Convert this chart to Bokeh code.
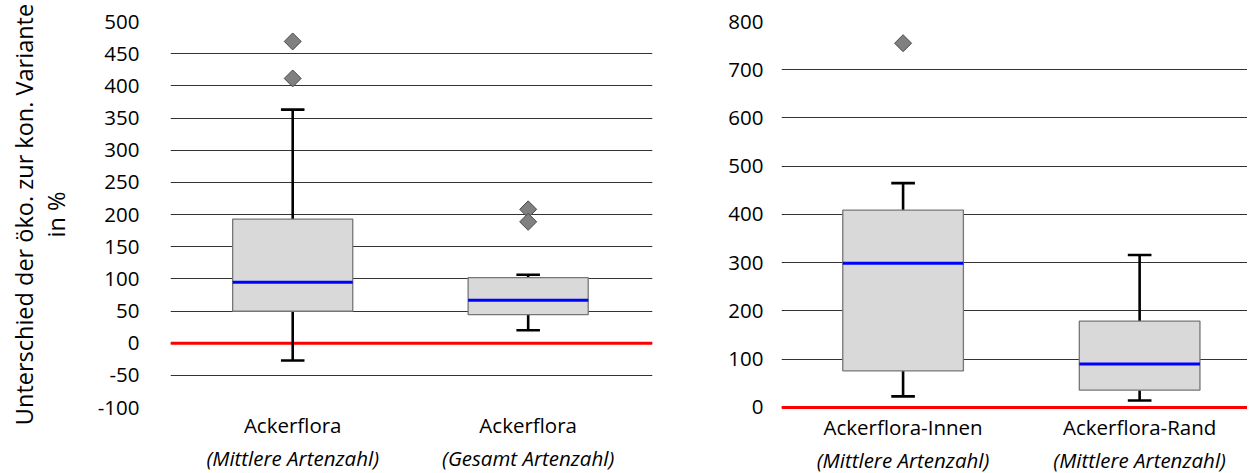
from bokeh.plotting import figure
from bokeh.models import FixedTicker, LinearAxis, Span, Range1d, ColumnDataSource
from bokeh.layouts import row
from bokeh.embed import file_html
from bokeh.resources import INLINE

FONT = "Open Sans"
FS = "20.5px"

# ---- data: left chart ----
left_cats = ["Ackerflora", "Ackerflora"]
left_subs = ["(Mittlere Artenzahl)", "(Gesamt Artenzahl)"]
left_lo = [-27, 20]
left_q1 = [49.6, 44.4]
left_med = [94.6, 66.7]
left_q3 = [192.8, 101.8]
left_hi = [363, 106.4]
left_out_idx = [0, 0, 1, 1]
left_out_val = [469, 411.5, 208, 188.6]
left_yticks = [-100, -50, 0, 50, 100, 150, 200, 250, 300, 350, 400, 450, 500]

# ---- data: right chart ----
right_cats = ["Ackerflora-Innen", "Ackerflora-Rand"]
right_subs = ["(Mittlere Artenzahl)", "(Mittlere Artenzahl)"]
right_lo = [23, 14.5]
right_q1 = [76, 36]
right_med = [299, 90]
right_q3 = [409, 179]
right_hi = [465, 316]
right_out_idx = [0]
right_out_val = [755]
right_yticks = [0, 100, 200, 300, 400, 500, 600, 700, 800]


def make_chart(cats, subs, lo, q1, med, q3, hi, out_idx, out_val, yticks, y_start,
               x_start, x_end, frame_w, frame_h, bl, br, bt, standoff, title=None):
    xs = [i + 0.5 for i in range(len(cats))]
    p = figure(frame_width=frame_w, frame_height=frame_h, output_backend="svg",
               toolbar_location=None, x_range=Range1d(x_start, x_end),
               y_range=Range1d(y_start, yticks[-1]),
               min_border_left=bl, min_border_right=br, min_border_top=bt,
               min_border_bottom=0)
    p.outline_line_color = None
    p.background_fill_color = "white"
    p.border_fill_color = "white"
    p.xgrid.visible = False
    p.ygrid.ticker = FixedTicker(ticks=yticks)
    p.ygrid.grid_line_color = "#333333"
    p.ygrid.grid_line_width = 1

    # y axis (plain hyphen for negative labels, as in the original)
    ya = p.yaxis[0]
    ya.ticker = FixedTicker(ticks=yticks)
    ya.major_label_overrides = {t: str(t) for t in yticks}
    ya.axis_line_color = None
    ya.major_tick_line_color = None
    ya.minor_tick_line_color = None
    ya.major_label_standoff = standoff
    ya.major_label_text_font = FONT
    ya.major_label_text_font_size = FS
    ya.major_label_text_color = "black"
    if title:
        ya.axis_label = title
        ya.axis_label_text_font = FONT
        ya.axis_label_text_font_size = "23.5px"
        ya.axis_label_text_font_style = "normal"
        ya.axis_label_text_color = "black"
        ya.axis_label_text_line_height = 0.977
        ya.axis_label_standoff = 23

    # x axes: two label lines
    xa = p.xaxis[0]
    xa.ticker = FixedTicker(ticks=xs)
    xa.major_label_overrides = {x: c for x, c in zip(xs, cats)}
    xa2 = LinearAxis(ticker=FixedTicker(ticks=xs),
                     major_label_overrides={x: s for x, s in zip(xs, subs)})
    p.add_layout(xa2, "below")
    for i, a in enumerate((xa, xa2)):
        a.axis_line_color = None
        a.major_tick_line_color = None
        a.minor_tick_line_color = None
        a.major_tick_out = 0
        a.major_label_standoff = 3 if i == 0 else 2
        a.major_label_text_font = FONT
        a.major_label_text_font_size = FS
        a.major_label_text_color = "black"
        a.major_label_text_font_style = "normal" if i == 0 else "italic"

    # zero line
    p.add_layout(Span(location=0, dimension="width", line_color="#ff0000",
                      line_width=3, level="underlay"))

    src = ColumnDataSource(dict(x=xs, lo=lo, q1=q1, med=med, q3=q3, hi=hi,
                                x0=[x - 0.05 for x in xs], x1=[x + 0.05 for x in xs],
                                m0=[x - 0.255 for x in xs], m1=[x + 0.255 for x in xs]))
    # whiskers
    p.segment("x", "q3", "x", "hi", source=src, line_color="black", line_width=2.6)
    p.segment("x", "q1", "x", "lo", source=src, line_color="black", line_width=2.6)
    p.segment("x0", "hi", "x1", "hi", source=src, line_color="black", line_width=2.6)
    p.segment("x0", "lo", "x1", "lo", source=src, line_color="black", line_width=2.6)
    # boxes
    p.vbar(x="x", bottom="q1", top="q3", width=0.51, source=src,
           fill_color="#d9d9d9", line_color="#767676", line_width=1.3)
    # medians
    p.segment("m0", "med", "m1", "med", source=src, line_color="#0000ff", line_width=3)
    # outliers
    p.scatter([xs[i] for i in out_idx], out_val, marker="square", angle=0.785398,
              size=12, fill_color="#808080", line_color="#4a4a4a", line_width=1)
    return p


p1 = make_chart(left_cats, left_subs, left_lo, left_q1, left_med, left_q3, left_hi,
                left_out_idx, left_out_val, left_yticks, -100, -0.019, 2.028,
                482, 386, 170, 48, 20, 25,
                title="Unterschied der öko. zur kon. Variante\nin %")
p2 = make_chart(right_cats, right_subs, right_lo, right_q1, right_med, right_q3, right_hi,
                right_out_idx, right_out_val, right_yticks, -4.15, -0.014, 1.956,
                466, 388, 81, 0, 21, 12)

layout = row(p1, p2)
open("out.html", "w").write(file_html(layout, INLINE))
